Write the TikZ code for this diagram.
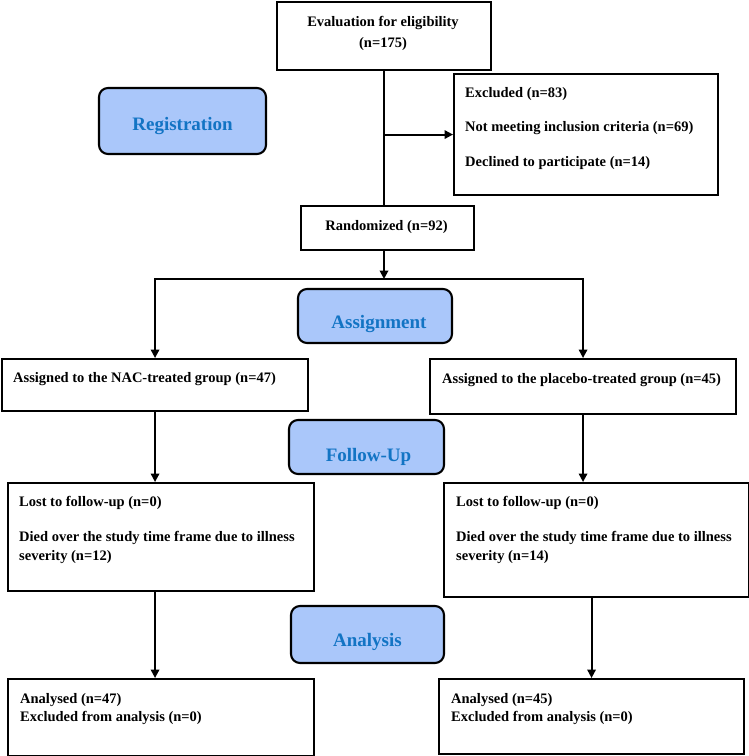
\documentclass[tikz,border=0pt]{standalone}
\usepackage{fontspec}
\setmainfont{Liberation Serif}
\usetikzlibrary{arrows.meta}
\definecolor{phasefill}{RGB}{170,199,250}
\definecolor{phasetext}{RGB}{18,116,196}
\begin{document}
\begin{tikzpicture}[x=1pt,y=-1pt,
  box/.style={draw, line width=2.1pt, rectangle, inner sep=0pt, anchor=north west},
  phase/.style={draw, line width=2.1pt, rounded corners=9pt, fill=phasefill, inner sep=0pt},
  phaselabel/.style={inner sep=0pt, text=phasetext, font=\bfseries\fontsize{19}{22}\selectfont},
  txt/.style={inner sep=0pt, anchor=west, align=left, font=\bfseries\fontsize{14.5}{19}\selectfont},
  ctxt/.style={inner sep=0pt, align=center, font=\bfseries\fontsize{14.5}{21}\selectfont},
  conn/.style={line width=1.9pt},
  arr/.style={line width=1.9pt, -{Triangle[width=8.5pt,length=8.5pt]}}]
\useasboundingbox (0,0) rectangle (749,756);

% main boxes
\node[box, minimum width=214pt, minimum height=68pt] (top) at (276,1) {};
\node[box, minimum width=264pt, minimum height=121pt] (excl) at (453,73) {};
\node[box, minimum width=173pt, minimum height=44pt] (rand) at (300,205) {};
\node[box, minimum width=306pt, minimum height=52pt] (nac) at (1,358) {};
\node[box, minimum width=306pt, minimum height=55pt] (plac) at (429,358) {};
\node[box, minimum width=306pt, minimum height=108pt] (fl) at (7,482) {};
\node[box, minimum width=305pt, minimum height=114pt] (fr) at (443,482) {};
\node[box, minimum width=306pt, minimum height=77pt] (al) at (7,678) {};
\node[box, minimum width=305pt, minimum height=75pt] (ar) at (438,678) {};

% phase boxes
\node[phase, minimum width=167pt, minimum height=66pt] (reg) at (182.5,121) {};
\node[phase, minimum width=154pt, minimum height=54pt] (asg) at (375,316) {};
\node[phase, minimum width=155pt, minimum height=54pt] (fup) at (366.5,447) {};
\node[phase, minimum width=153pt, minimum height=57pt] (ana) at (367.5,634.5) {};

\node[phaselabel] (regt) at ([yshift=-5pt]reg.center) {Registration};
\node[phaselabel] (asgt) at ([xshift=4pt,yshift=-8pt]asg.center) {Assignment};
\node[phaselabel] (fupt) at ([xshift=2pt,yshift=-10pt]fup.center) {Follow-Up};
\node[phaselabel] (anat) at ([yshift=-7pt]ana.center) {Analysis};

% texts
\node[ctxt] (topt) at (383,33) {Evaluation for eligibility\\(n=175)};
\node[txt] (ex1) at (465,94) {Excluded (n=83)};
\node[txt] (ex2) at (465,128) {Not meeting inclusion criteria (n=69)};
\node[txt] (ex3) at (465,163) {Declined to participate (n=14)};
\node[ctxt] (randt) at (386.5,227) {Randomized (n=92)};
\node[txt] (nact) at (13,379) {Assigned to the NAC-treated group (n=47)};
\node[txt] (plact) at (442,380) {Assigned to the placebo-treated group (n=45)};
\node[txt] (fl1) at (19,503) {Lost to follow-up (n=0)};
\node[txt] (fl2) at (19,547.5) {Died over the study time frame due to illness\\severity (n=12)};
\node[txt] (fr1) at (456,503) {Lost to follow-up (n=0)};
\node[txt] (fr2) at (456,547.5) {Died over the study time frame due to illness\\severity (n=14)};
\node[txt, font=\bfseries\fontsize{14.5}{18}\selectfont] (alt) at (20,709) {Analysed (n=47)\\Excluded from analysis (n=0)};
\node[txt, font=\bfseries\fontsize{14.5}{18}\selectfont] (art) at (451,709) {Analysed (n=45)\\Excluded from analysis (n=0)};

% connectors
\coordinate (split) at (384,279);
\draw[conn] (top.south) -- (top.south |- rand.north);
\draw[arr] (top.south |- excl.west) -- (excl.west);
\draw[arr] (rand.south -| split) -- (split);
\draw[arr] (split) -| (nac.north);
\draw[arr] (split) -| (plac.north);
\draw[arr] (nac.south) -- (nac.south |- fl.north);
\draw[arr] (plac.south) -- (plac.south |- fr.north);
\draw[arr] (nac.south |- fl.south) -- (nac.south |- al.north);
\draw[arr] (ar.north |- fr.south) -- (ar.north);
\end{tikzpicture}
\end{document}
